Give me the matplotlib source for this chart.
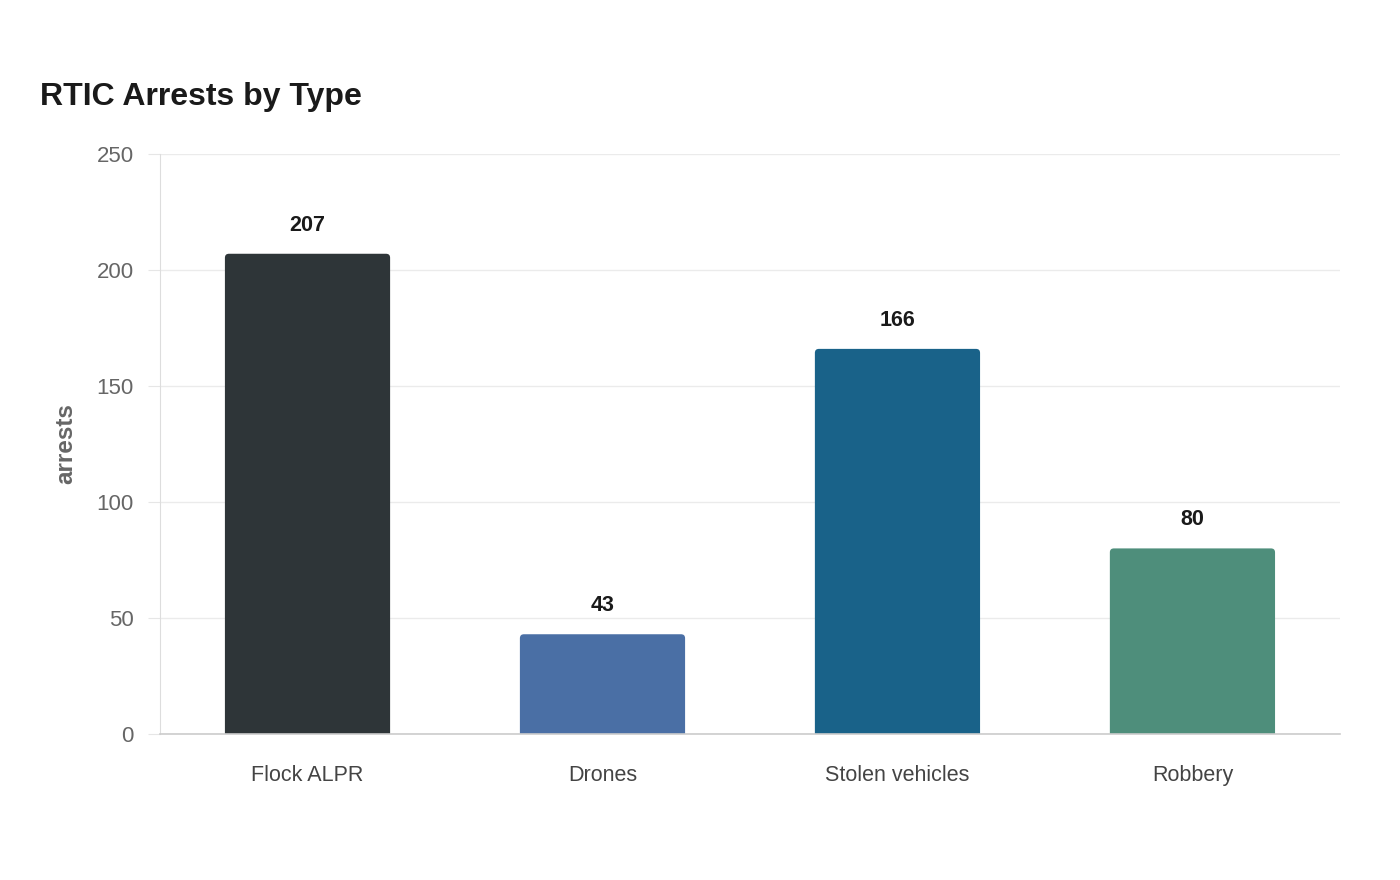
import matplotlib.pyplot as plt
from matplotlib.patches import FancyBboxPatch

plt.rcParams['font.family'] = ['Liberation Sans', 'DejaVu Sans']

categories = ['Flock ALPR', 'Drones', 'Stolen vehicles', 'Robbery']
arrests = [207, 43, 166, 80]
colors = ['#2E3538', '#4A6FA5', '#196289', '#4E8E7B']
yticks = [0, 50, 100, 150, 200, 250]

fig = plt.figure(figsize=(14, 8.8), dpi=100)
ax = fig.add_axes([0.1143, 0.1659, 0.8428, 0.6591])
ax.set_xlim(-0.5, len(categories) - 0.5)
ax.set_ylim(0, 250)

# bars with slightly rounded tops (bottom pushed below 0 and clipped)
bars = ax.bar(range(len(categories)), arrests, width=0.56, color=colors, zorder=3)
px_x = 1180 / len(categories)   # px per x unit
px_y = 580 / 250                # px per y unit
r = 4 / px_x
aspect = px_x / px_y
for b, c in zip(bars, colors):
    b.set_visible(False)
    x0, w, h = b.get_x(), b.get_width(), b.get_height()
    ax.add_patch(FancyBboxPatch((x0, -5), w, h + 5,
                                boxstyle=f'round,pad=0,rounding_size={r}',
                                mutation_aspect=aspect, facecolor=c,
                                edgecolor='none', zorder=3, clip_on=True))

for i, v in enumerate(arrests):
    ax.annotate(str(v), (i, v), xytext=(0, 20.5),
                textcoords='offset points', ha='center', va='center',
                fontsize=15.5, fontweight='bold', color='#1a1a1a')

ax.set_yticks(yticks)
ax.set_xticks(range(len(categories)))
ax.set_xticklabels(categories)
ax.grid(axis='y', color='#ebebeb', linewidth=1, zorder=0)

for s in ['top', 'right']:
    ax.spines[s].set_visible(False)
ax.spines['left'].set_color('#dddddd')
ax.spines['bottom'].set_color('#cccccc')
ax.spines['bottom'].set_linewidth(1.2)
ax.spines['bottom'].set_zorder(4)

ax.tick_params(axis='y', length=9, color='#e6e6e6', pad=10, labelsize=16, labelcolor='#666666')
ax.tick_params(axis='x', length=0, pad=22, labelsize=15.5, labelcolor='#444444')

ax.set_ylabel('arrests', fontsize=17.5, fontweight='bold', color='#666666', labelpad=14)

fig.text(40 / 1400, 1 - 97 / 880, 'RTIC Arrests by Type', fontsize=23, fontweight='bold',
         color='#1a1a1a', ha='left', va='center')

fig.savefig('out.png', dpi=100, facecolor='white')
